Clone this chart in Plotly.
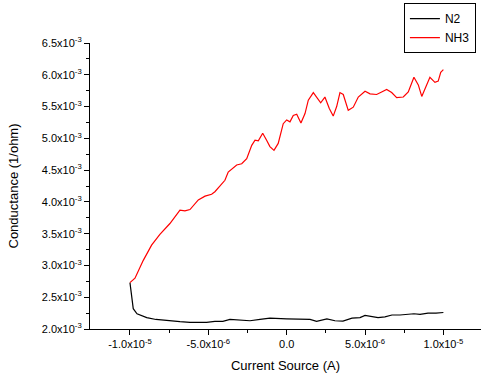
import plotly.graph_objects as go

# N2 series (current in A, conductance in 1/ohm)
n2_x = [-10.0e-6, -9.79e-6, -9.55e-6, -8.93e-6, -8.34e-6, -7.66e-6, -6.81e-6, -6.17e-6,
        -5.11e-6, -4.58e-6, -4.07e-6, -3.62e-6, -2.98e-6, -2.34e-6, -1.70e-6, -1.07e-6,
        0.0, 0.85e-6, 1.49e-6, 1.91e-6, 2.57e-6, 3.08e-6, 3.59e-6, 4.17e-6, 4.68e-6,
        5.0e-6, 5.44e-6, 5.83e-6, 6.27e-6, 6.72e-6, 7.23e-6, 7.74e-6, 8.12e-6, 8.51e-6,
        9.02e-6, 9.53e-6, 10.0e-6]
n2_y = [2.73e-3, 2.32e-3, 2.24e-3, 2.18e-3, 2.15e-3, 2.13e-3, 2.115e-3, 2.105e-3,
        2.105e-3, 2.12e-3, 2.12e-3, 2.15e-3, 2.14e-3, 2.13e-3, 2.15e-3, 2.17e-3,
        2.16e-3, 2.16e-3, 2.15e-3, 2.12e-3, 2.16e-3, 2.13e-3, 2.125e-3, 2.17e-3, 2.18e-3,
        2.215e-3, 2.19e-3, 2.18e-3, 2.19e-3, 2.22e-3, 2.22e-3, 2.23e-3, 2.24e-3, 2.23e-3,
        2.25e-3, 2.25e-3, 2.26e-3]

# NH3 series
nh3_x = [-10.0e-6, -9.68e-6, -9.15e-6, -8.62e-6, -8.09e-6, -7.45e-6, -6.81e-6, -6.49e-6,
         -6.17e-6, -5.64e-6, -5.21e-6, -4.79e-6, -4.58e-6, -3.94e-6, -3.73e-6, -3.19e-6,
         -2.87e-6, -2.55e-6, -2.23e-6, -2.02e-6, -1.81e-6, -1.53e-6, -1.28e-6, -1.07e-6,
         -0.81e-6, -0.54e-6, -0.22e-6, 0.0, 0.21e-6, 0.42e-6, 0.64e-6, 0.91e-6, 1.17e-6,
         1.38e-6, 1.70e-6, 1.91e-6, 2.17e-6, 2.44e-6, 2.72e-6, 2.97e-6, 3.19e-6, 3.40e-6,
         3.61e-6, 3.93e-6, 4.25e-6, 4.57e-6, 5.00e-6, 5.32e-6, 5.74e-6, 6.06e-6, 6.38e-6,
         6.70e-6, 7.02e-6, 7.44e-6, 7.76e-6, 8.12e-6, 8.40e-6, 8.62e-6, 8.83e-6, 9.14e-6,
         9.46e-6, 9.67e-6, 9.83e-6, 10.0e-6]
nh3_y = [2.73e-3, 2.80e-3, 3.08e-3, 3.32e-3, 3.49e-3, 3.66e-3, 3.87e-3, 3.86e-3,
         3.88e-3, 4.03e-3, 4.09e-3, 4.12e-3, 4.16e-3, 4.34e-3, 4.47e-3, 4.58e-3,
         4.60e-3, 4.68e-3, 4.89e-3, 4.97e-3, 4.96e-3, 5.08e-3, 4.97e-3, 4.87e-3,
         4.81e-3, 4.92e-3, 5.23e-3, 5.29e-3, 5.26e-3, 5.36e-3, 5.38e-3, 5.24e-3, 5.39e-3,
         5.60e-3, 5.72e-3, 5.65e-3, 5.56e-3, 5.65e-3, 5.47e-3, 5.35e-3, 5.50e-3, 5.72e-3,
         5.69e-3, 5.44e-3, 5.49e-3, 5.65e-3, 5.74e-3, 5.70e-3, 5.69e-3, 5.73e-3, 5.77e-3,
         5.72e-3, 5.64e-3, 5.65e-3, 5.73e-3, 5.96e-3, 5.84e-3, 5.66e-3, 5.79e-3, 5.96e-3,
         5.88e-3, 5.90e-3, 6.04e-3, 6.08e-3]

x_tickvals = [-1.0e-5, -5.0e-6, 0.0, 5.0e-6, 1.0e-5]
x_ticktext = ["-1.0x10<sup>-5</sup>", "-5.0x10<sup>-6</sup>", "0.0",
              "5.0x10<sup>-6</sup>", "1.0x10<sup>-5</sup>"]
x_minorvals = [-7.5e-6, -2.5e-6, 2.5e-6, 7.5e-6]

y_tickvals = [2.0e-3, 2.5e-3, 3.0e-3, 3.5e-3, 4.0e-3, 4.5e-3, 5.0e-3, 5.5e-3, 6.0e-3, 6.5e-3]
y_ticktext = ["2.0x10<sup>-3</sup>", "2.5x10<sup>-3</sup>", "3.0x10<sup>-3</sup>",
              "3.5x10<sup>-3</sup>", "4.0x10<sup>-3</sup>", "4.5x10<sup>-3</sup>",
              "5.0x10<sup>-3</sup>", "5.5x10<sup>-3</sup>", "6.0x10<sup>-3</sup>",
              "6.5x10<sup>-3</sup>"]
y_minorvals = [2.25e-3, 2.75e-3, 3.25e-3, 3.75e-3, 4.25e-3, 4.75e-3, 5.25e-3, 5.75e-3, 6.25e-3]

fig = go.Figure()
fig.add_trace(go.Scatter(x=n2_x, y=n2_y, mode="lines", name="N2",
                         line=dict(color="#000000", width=1.2)))
fig.add_trace(go.Scatter(x=nh3_x, y=nh3_y, mode="lines", name="NH3",
                         line=dict(color="#ff0000", width=1.2)))

font_family = "Liberation Sans, Arial, sans-serif"
fig.update_layout(
    width=481, height=374,
    margin=dict(l=90, r=0, t=43, b=45, autoexpand=False),
    paper_bgcolor="white", plot_bgcolor="white",
    font=dict(family=font_family, size=11, color="#000000"),
    showlegend=True,
    legend=dict(x=0.987, y=1.052, xanchor="right", yanchor="middle",
                bordercolor="#000000", borderwidth=1, bgcolor="white",
                font=dict(size=12), tracegroupgap=0, itemwidth=30),
)
fig.update_xaxes(
    range=[-12.55e-6, 12.4e-6], automargin=False,
    showgrid=False, zeroline=False, showline=True, linecolor="#000000", linewidth=1.2,
    ticks="outside", ticklen=5, tickcolor="#000000", tickwidth=1.2,
    tickmode="array", tickvals=x_tickvals, ticktext=x_ticktext,
    minor=dict(tickmode="array", tickvals=x_minorvals, ticks="outside", ticklen=3,
               tickcolor="#000000", showgrid=False),
    title=dict(text="Current Source (A)", font=dict(size=13), standoff=11),
)
fig.update_yaxes(
    range=[2.0e-3, 6.5e-3], automargin=False,
    showgrid=False, zeroline=False, showline=True, linecolor="#000000", linewidth=1.2,
    ticks="outside", ticklen=5, tickcolor="#000000", tickwidth=1.2,
    tickmode="array", tickvals=y_tickvals, ticktext=y_ticktext,
    minor=dict(tickmode="array", tickvals=y_minorvals, ticks="outside", ticklen=3,
               tickcolor="#000000", showgrid=False),
    title=dict(text="Conductance (1/ohm)", font=dict(size=13), standoff=20),
)

fig.write_html("out.html", config={"displayModeBar": False},
               post_script="document.body.style.margin='0';document.body.style.overflow='hidden';")
